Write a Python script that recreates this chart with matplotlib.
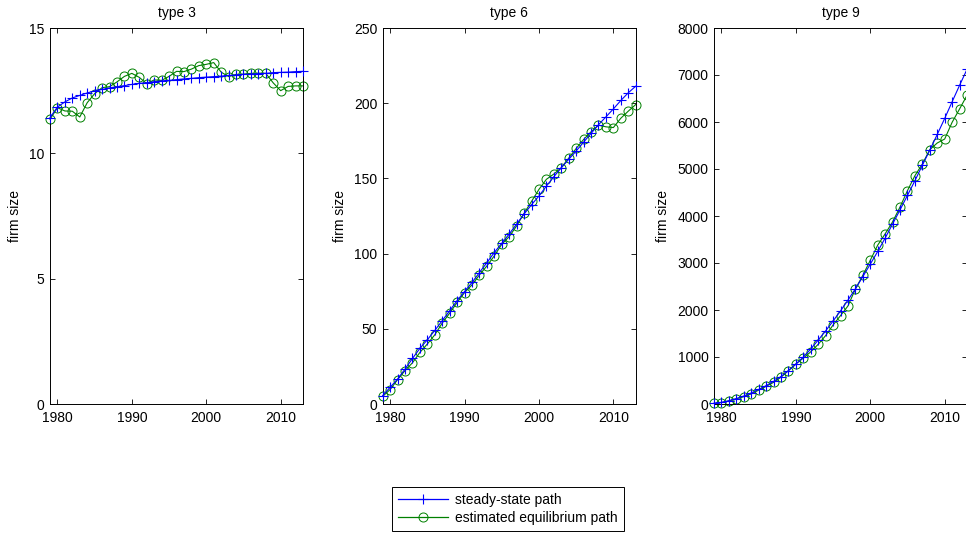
import matplotlib
matplotlib.use("Agg")
import matplotlib.pyplot as plt
import numpy as np

plt.rcParams['font.family'] = ['Liberation Sans', 'DejaVu Sans']

years = list(range(1979, 2014))

titles = ["type 3", "type 6", "type 9"]
ylabel = "firm size"
legend_labels = ["steady-state path", "estimated equilibrium path"]

ss_type3 = [11.42, 11.85, 12.05, 12.21, 12.31, 12.41, 12.49, 12.55, 12.61, 12.66,
            12.70, 12.75, 12.79, 12.82, 12.86, 12.89, 12.91, 12.94, 12.97, 12.99,
            13.02, 13.04, 13.06, 13.08, 13.11, 13.12, 13.15, 13.16, 13.18, 13.19,
            13.22, 13.23, 13.24, 13.26, 13.27]
eq_type3 = [11.36, 11.82, 11.69, 11.68, 11.45, 12.02, 12.38, 12.62, 12.66, 12.85,
            13.07, 13.19, 13.03, 12.78, 12.93, 12.91, 13.07, 13.27, 13.26, 13.36,
            13.50, 13.55, 13.62, 13.24, 13.06, 13.15, 13.16, 13.19, 13.20, 13.19,
            12.81, 12.50, 12.67, 12.69, 12.69]

ss_type6 = [5.6, 11.1, 16.6, 23.2, 30.3, 37.0, 42.7, 48.9, 55.4, 62.0,
            68.8, 74.8, 80.8, 87.4, 94.0, 100.7, 106.9, 113.0, 119.7, 126.3,
            132.5, 138.3, 144.9, 151.1, 157.1, 162.7, 168.2, 174.1, 179.9, 185.7,
            190.9, 196.2, 201.8, 206.9, 211.3]
eq_type6 = [5.1, 9.6, 16.2, 22.2, 27.4, 34.3, 39.9, 46.0, 53.8, 60.4,
            67.5, 74.1, 79.2, 85.8, 91.8, 98.5, 106.2, 111.3, 118.4, 126.8,
            134.7, 142.7, 149.4, 152.9, 157.1, 163.5, 169.9, 175.9, 181.0, 185.4,
            184.3, 183.8, 190.0, 194.7, 199.1]

ss_type9 = [15, 35, 70, 115, 170, 235, 310, 390, 480, 585,
            710, 845, 1000, 1170, 1360, 1555, 1765, 1980, 2210, 2450,
            2710, 2975, 3245, 3530, 3830, 4130, 4440, 4750, 5080, 5400,
            5735, 6075, 6430, 6780, 7120]
eq_type9 = [15, 30, 64, 110, 155, 215, 295, 375, 460, 570,
            710, 855, 975, 1110, 1270, 1455, 1680, 1880, 2085, 2445,
            2738, 3057, 3380, 3620, 3875, 4191, 4540, 4858, 5106, 5411,
            5553, 5638, 5993, 6277, 6567]

ylims = [(0, 15), (0, 250), (0, 8000)]
yticks = [[0, 5, 10, 15], [0, 50, 100, 150, 200, 250],
          [0, 1000, 2000, 3000, 4000, 5000, 6000, 7000, 8000]]
xticks = [1980, 1990, 2000, 2010]

W, H = 966, 536
fig = plt.figure(figsize=(W / 100, H / 100), dpi=100)

lefts = [50, 382.7, 714]
aw, ah = 253, 376
bottom_px = 404

series = [(ss_type3, eq_type3), (ss_type6, eq_type6), (ss_type9, eq_type9)]
handles = None
for i, (ss, eq) in enumerate(series):
    ax = fig.add_axes([lefts[i] / W, (H - bottom_px) / H, aw / W, ah / H])
    h1, = ax.plot(years, ss, color='blue', marker='+', markersize=6.5,
                  linewidth=0.8, markeredgewidth=0.8, clip_on=False, zorder=3)
    h2, = ax.plot(years, eq, color='#008000', marker='o', markersize=6.5,
                  markerfacecolor='none', linewidth=0.8, markeredgewidth=0.7,
                  clip_on=False, zorder=2)
    handles = [h1, h2]
    ax.set_xlim(1979, 2013)
    ax.set_ylim(*ylims[i])
    ax.set_xticks(xticks)
    ax.set_yticks(yticks[i])
    ax.tick_params(direction='in', length=3.5, width=0.6, top=True, right=True,
                   labelsize=10, colors='black')
    ax.tick_params(axis='x', pad=5)
    ax.tick_params(axis='y', pad=4)
    for s in ax.spines.values():
        s.set_linewidth(0.7)
    ax.set_title(titles[i], fontsize=10, pad=8)
    ax.set_ylabel(ylabel, fontsize=10, labelpad=5)

leg = fig.legend(handles, legend_labels, loc='center',
                 bbox_to_anchor=(508 / W, 1 - 509 / H), fontsize=10,
                 frameon=True, fancybox=False, edgecolor='black',
                 framealpha=1, numpoints=1, handlelength=3.6,
                 borderpad=0.45, labelspacing=0.3, handletextpad=0.5)
leg.get_frame().set_linewidth(0.7)
for ln, c in zip(leg.get_lines(), ['blue', '#008000']):
    ln.set_color(c)
    ln.set_linewidth(0.9)

fig.savefig("out.png", dpi=100)
